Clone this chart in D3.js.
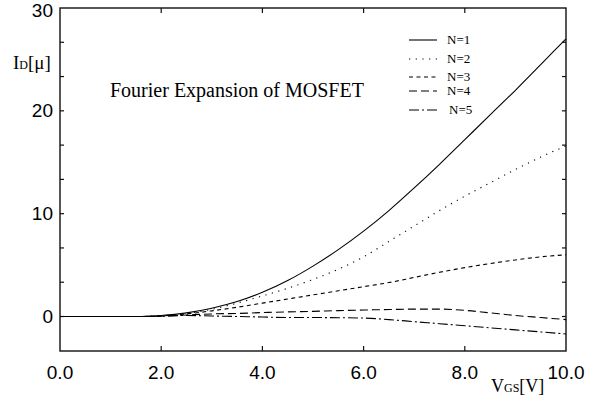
<!DOCTYPE html>
<meta charset="utf-8">
<style>
body { margin: 0; background: #fff; }
.tick-label { font-family: "Liberation Sans", Arial, sans-serif; font-size: 19px; fill: #000; }
.serif { font-family: "Liberation Serif", "Times New Roman", serif; fill: #000; }
.curve { fill: none; stroke: #000; stroke-width: 1.1; }
</style>
<svg width="596" height="395"></svg>
<script src="https://cdn.jsdelivr.net/npm/d3@7"></script>
<script>

var vgs = [0, 0.5, 1, 1.5, 2, 2.5, 3, 3.5, 4, 4.5, 5, 5.5, 6, 6.5, 7, 7.5, 8, 8.5, 9, 9.5, 10];

var n1 = [0, 0, 0, 0, 0.1, 0.35, 0.8, 1.45, 2.35, 3.5, 4.9, 6.5, 8.3, 10.3, 12.5, 14.8, 17.2, 19.6, 22.0, 24.5, 27.0];
var n2 = [0, 0, 0, 0, 0.08, 0.3, 0.7, 1.3, 2.0, 2.75, 3.6, 4.6, 5.8, 7.3, 8.8, 10.3, 11.7, 13.0, 14.3, 15.5, 16.6];
var n3 = [0, 0, 0, 0, 0.06, 0.25, 0.55, 0.9, 1.3, 1.7, 2.1, 2.5, 2.9, 3.3, 3.8, 4.3, 4.75, 5.15, 5.5, 5.8, 6.0];
var n4 = [0, 0, 0, 0, 0.04, 0.15, 0.25, 0.3, 0.38, 0.45, 0.5, 0.57, 0.63, 0.68, 0.72, 0.72, 0.6, 0.35, 0.1, -0.1, -0.3];
var n5 = [0, 0, 0, 0, 0.03, 0.1, 0.05, 0, -0.05, -0.1, -0.1, -0.12, -0.15, -0.3, -0.5, -0.7, -0.9, -1.1, -1.3, -1.5, -1.7];

var seriesNames = ["N=1", "N=2", "N=3", "N=4", "N=5"];
var seriesValues = [n1, n2, n3, n4, n5];

var xTickValues = [0, 2, 4, 6, 8, 10];
var yLabelValues = [0, 10, 20, 30];

var dashes = [null, "1.2,5.5", "4,3.5", "8,4", "10,3,2,3"];
var legendY = [44, 63, 81, 95, 114];

var svg = d3.select("svg");
var pLeft = 60, pRight = 566, pTop = 8, pBottom = 351;

var x = d3.scaleLinear().domain([0, 10]).range([pLeft, pRight]);
var y = d3.scaleLinear().domain([0, 30]).range([316.5, pTop]);
var yMin = y.invert(pBottom);

// frame
svg.append("rect")
    .attr("x", pLeft).attr("y", pTop)
    .attr("width", pRight - pLeft).attr("height", pBottom - pTop)
    .attr("fill", "none").attr("stroke", "#111").attr("stroke-width", 1.4);

// y ticks every 10/3, both sides, inward
var yTicks = d3.range(0, 10).map(function(i) { return i * 10 / 3; })
    .filter(function(v) { return v > yMin && v < 29.9; });
yTicks.forEach(function(v) {
  svg.append("line").attr("x1", pLeft).attr("x2", pLeft + 4)
      .attr("y1", y(v)).attr("y2", y(v)).attr("stroke", "#111").attr("stroke-width", 1.2);
  svg.append("line").attr("x1", pRight - 4).attr("x2", pRight)
      .attr("y1", y(v)).attr("y2", y(v)).attr("stroke", "#111").attr("stroke-width", 1.2);
});

xTickValues.slice(1, -1).forEach(function(v) {
  svg.append("line").attr("x1", x(v)).attr("x2", x(v))
      .attr("y1", pBottom).attr("y2", pBottom - 5).attr("stroke", "#111").attr("stroke-width", 1.2);
  svg.append("line").attr("x1", x(v)).attr("x2", x(v))
      .attr("y1", pTop).attr("y2", pTop + 5).attr("stroke", "#111").attr("stroke-width", 1.2);
});

// tick labels
svg.selectAll("text.xl").data(xTickValues).enter().append("text")
    .attr("class", "tick-label xl")
    .attr("x", function(d) { return x(d); })
    .attr("y", 379)
    .attr("text-anchor", "middle")
    .text(function(d) { return d3.format(".1f")(d); });

svg.selectAll("text.yl").data(yLabelValues).enter().append("text")
    .attr("class", "tick-label yl")
    .attr("x", 53)
    .attr("y", function(d) { return Math.max(y(d) + 6, 17); })
    .attr("text-anchor", "end")
    .text(function(d) { return d; });

// axis titles
var yt = svg.append("text").attr("class", "serif").attr("x", 13).attr("y", 69).attr("font-size", 19);
yt.append("tspan").text("I");
yt.append("tspan").attr("font-size", 12).text("D");
yt.append("tspan").text("[μ]");

var xt = svg.append("text").attr("class", "serif").attr("x", 491).attr("y", 392).attr("font-size", 18);
xt.append("tspan").text("V");
xt.append("tspan").attr("font-size", 12).text("GS");
xt.append("tspan").text("[V]");

svg.append("text").attr("class", "serif")
    .attr("x", 110).attr("y", 97).attr("font-size", 20)
    .text("Fourier Expansion of MOSFET");

// curves
var line = d3.line()
    .x(function(d, i) { return x(vgs[i]); })
    .y(function(d) { return y(d); })
    .curve(d3.curveMonotoneX);

svg.selectAll("path.curve").data(seriesValues).enter().append("path")
    .attr("class", "curve")
    .attr("d", line)
    .attr("stroke-dasharray", function(d, i) { return dashes[i]; });

// legend
var lg = svg.append("g");
seriesNames.forEach(function(name, i) {
  lg.append("line").attr("class", "curve")
      .attr("x1", 409).attr("x2", 437)
      .attr("y1", legendY[i] - 4).attr("y2", legendY[i] - 4)
      .attr("stroke-dasharray", dashes[i]);
  lg.append("text").attr("class", "serif")
      .attr("x", i === 4 ? 449 : 447).attr("y", legendY[i])
      .attr("font-size", 13)
      .text(name);
});

</script>
